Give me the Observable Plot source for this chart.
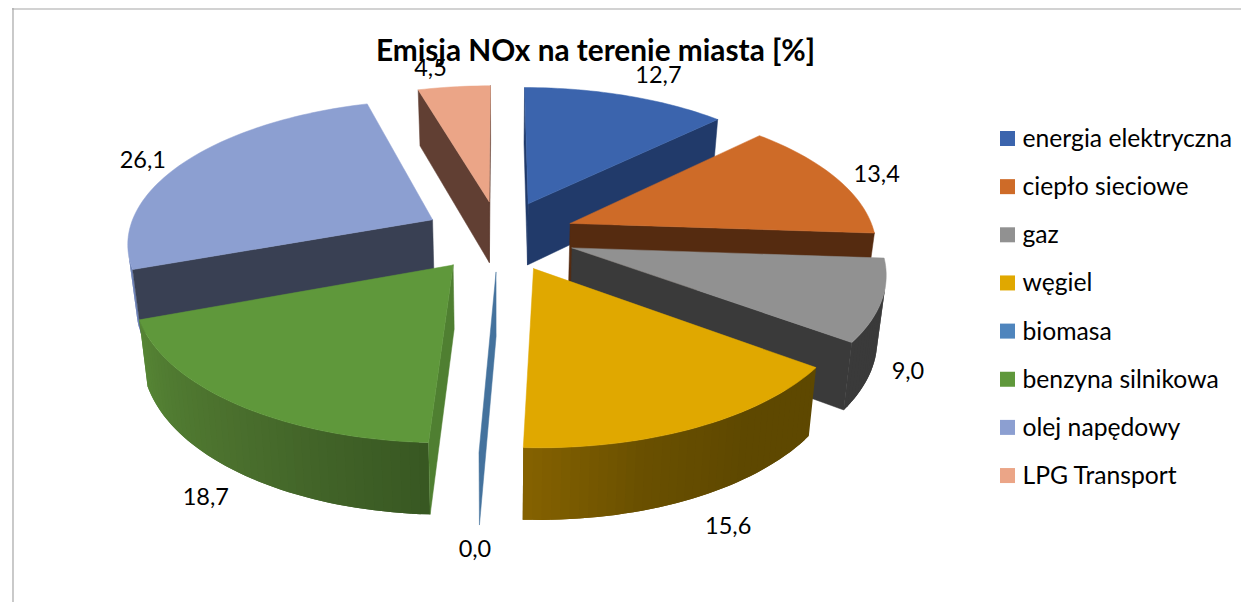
<!DOCTYPE html>
<html lang="pl">
<head>
<meta charset="utf-8">
<title>Emisja NOx na terenie miasta [%]</title>
<script src="https://cdn.jsdelivr.net/npm/d3@7"></script>
<script src="https://cdn.jsdelivr.net/npm/@observablehq/plot@0.6"></script>
<style>
  html, body { margin: 0; padding: 0; background: #fff; overflow: hidden; }
  svg { display: block; }
</style>
</head>
<body>
<div id="chart"></div>
<script>
// ---- data ----
const chartTitle = "Emisja NOx na terenie miasta [%]";
const categories = ["energia elektryczna", "ciepło sieciowe", "gaz", "węgiel", "biomasa", "benzyna silnikowa", "olej napędowy", "LPG Transport"];
const values = [12.7, 13.4, 9.0, 15.6, 0.0, 18.7, 26.1, 4.5];

// ---- styles ----
const topColors = ["#3B64AD", "#CE6B28", "#919191", "#E0A800", "#4F85BD", "#5F983B", "#8C9FD1", "#EBA587"];
const wallColors = ["#213A6A", "#552B10", "#3A3A3A", "#5E4800", "#44729D", "#4F7F31", "#394053", "#613F33"];
const rimColors = [
  ["#213A6A", "#213A6A"], ["#552B10", "#552B10"], ["#3A3A3A", "#3A3A3A"],
  ["#5E4800", "#5E4800", "#6A5000", "#856200"], ["#44729D", "#44729D"],
  ["#385722", "#4A6F2D", "#568635"], ["#6E83B8", "#6E83B8"], ["#613F33", "#613F33"]
];
const paintOrder = [7, 0, 1, 6, 2, 5, 4, 3];

// ---- projection of the tilted, exploded pie ----
const W = 1241, H = 602;
const pie = {cx: 499, cy: 235, rx: 305, ry: 142, persp: 0.147, explode: 0.25,
             baseScaleX: 0.977, baseScaleY: 1.045, baseShift: 52};
const toRad = Math.PI / 180;
const project = (X, Y) => {
  const s = 1 / (1 + pie.persp * Y);
  return [pie.cx + pie.rx * X * s, pie.cy - pie.ry * Y * s];
};
const base = ([x, y]) => [pie.cx + (x - pie.cx) * pie.baseScaleX, y * pie.baseScaleY + pie.baseShift];

const total = d3.sum(values);
let running = 0;
const slices = values.map((v, i) => {
  const a0 = running / total * 360; running += v;
  const a1 = running / total * 360;
  const mid = (a0 + a1) / 2;
  return {i, a0, a1, mid,
    ox: pie.explode * Math.sin(mid * toRad),
    oy: pie.explode * Math.cos(mid * toRad)};
});
const rimPoint = (s, a) => project(s.ox + Math.sin(a * toRad), s.oy + Math.cos(a * toRad));
const apex = s => project(s.ox, s.oy);

// visible when drawn counter-clockwise on screen
const visible = pts => {
  let area = 0;
  pts.forEach((p, k) => { const q = pts[(k + 1) % pts.length]; area += p[0] * q[1] - q[0] * p[1]; });
  return area < -0.01;
};

const rows = [];
let faceId = 0;
const addFace = (pts, fill, edge = fill) => {
  faceId++;
  [...pts, pts[0]].forEach(([x, y]) => rows.push({face: faceId, x, y, fill, edge}));
};

for (const idx of paintOrder) {
  const s = slices[idx];
  const c = apex(s);
  const rimShade = d3.piecewise(d3.interpolateRgb, rimColors[idx]);
  // outer rim: each small quad runs on under the next one, which hides the seams
  const steps = Math.max(1, Math.ceil((s.a1 - s.a0) / 1.5));
  const at = k => s.a0 + (s.a1 - s.a0) * Math.min(k, steps) / steps;
  for (let k = 0; k < steps; k++) {
    const pa = rimPoint(s, at(k)), pb = rimPoint(s, at(k + 1));
    if (!visible([pa, pb, base(pb), base(pa)])) continue;
    const pc = rimPoint(s, at(k + 2));
    addFace([pa, pb, pc, base(pc), base(pb), base(pa)], rimShade((k + 0.5) / steps), "none");
  }
  // radial walls
  const e0 = rimPoint(s, s.a0), e1 = rimPoint(s, s.a1);
  const w0 = [c, e0, base(e0), base(c)];
  const w1 = [e1, c, base(c), base(e1)];
  if (visible(w0)) addFace(w0, wallColors[idx]);
  if (visible(w1)) addFace(w1, wallColors[idx]);
  // top face
  if (s.a1 > s.a0) {
    const arc = d3.range(0, steps + 1).map(k => rimPoint(s, at(k)));
    addFace([c, ...arc], topColors[idx]);
  }
}

// ---- data labels ----
const labelReach = 1.3;
const labelNudge = [[28, -15], [28, -1], [10, 68], [22, 90], [-3, 86], [-17, 86], [-31, 2], [-22, -13]];
const fmt = v => v.toFixed(1).replace(".", ",");
const labels = slices.map(s => {
  const [x, y] = project(labelReach * Math.sin(s.mid * toRad), labelReach * Math.cos(s.mid * toRad));
  return {x: x + labelNudge[s.i][0], y: y + labelNudge[s.i][1], text: fmt(values[s.i])};
});

// ---- legend ----
const legend = {x: 1000, size: 15, textX: 1022, y0: 138.5, step: 48.15};
const legendRows = categories.map((name, i) => {
  const y = legend.y0 + i * legend.step;
  return {name, fill: topColors[i], y,
    x1: legend.x, x2: legend.x + legend.size,
    y1: y - legend.size / 2, y2: y + legend.size / 2};
});

const fontFamily = "Lato, 'Open Sans', sans-serif";

const chart = Plot.plot({
  width: W,
  height: H,
  margin: 0,
  x: {domain: [0, W], range: [0, W], axis: null},
  y: {domain: [0, H], range: [0, H], axis: null},
  color: {type: "identity"},
  style: {background: "#fff", fontFamily},
  marks: [
    Plot.ruleY([8.5], {x1: 12, x2: W, stroke: "#A6A6A6", strokeWidth: 1.2}),
    Plot.ruleX([12.5], {y1: 8, y2: H, stroke: "#A6A6A6", strokeWidth: 1.2}),
    Plot.line(rows, {x: "x", y: "y", z: "face", fill: "fill", stroke: "edge", strokeWidth: 0.5, curve: "linear"}),
    Plot.text([chartTitle], {x: () => 595, y: () => 51, text: d => d, fontSize: 29.8, fontWeight: 700, fill: "#000", textAnchor: "middle", lineAnchor: "middle", fontFamily}),
    Plot.text(labels, {x: "x", y: "y", text: "text", fontSize: 23.5, fill: "#000", textAnchor: "middle", lineAnchor: "middle", fontFamily}),
    Plot.rect(legendRows, {x1: "x1", x2: "x2", y1: "y1", y2: "y2", fill: "fill", inset: 0}),
    Plot.text(legendRows, {x: () => legend.textX, y: "y", text: "name", fontSize: 24.7, fill: "#000", textAnchor: "start", lineAnchor: "middle", fontFamily})
  ]
});
document.getElementById("chart").append(chart);
</script>
</body>
</html>
